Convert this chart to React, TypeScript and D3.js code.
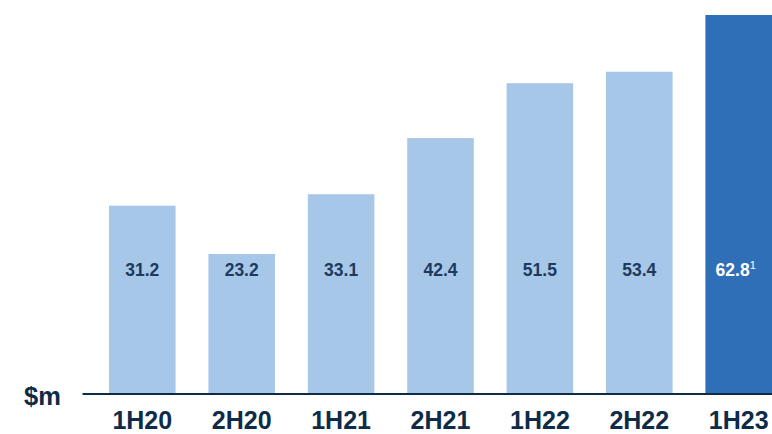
import React from "react";
import * as d3 from "d3";

const categories = ["1H20", "2H20", "1H21", "2H21", "1H22", "2H22", "1H23"];
const values = [31.2, 23.2, 33.1, 42.4, 51.5, 53.4, 62.8];
const highlight = ["1H23"];
const footnotes: Record<string, string> = { "1H23": "1" };
const unitLabel = "$m";

const W = 772;
const H = 434;

export default function App() {
  const x = d3.scaleBand<string>().domain(categories).range([109, 772]).paddingInner(0.33).paddingOuter(0);
  const y = d3.scaleLinear().domain([0, 62.8]).range([394, 15]);
  const navy = "#0e2c48";
  const labelY = 276;
  return (
    <svg width={W} height={H} style={{ position: "absolute", left: 0, top: 0, fontFamily: "Liberation Sans, Arial, sans-serif" }}>
      {categories.map((c, i) => {
        const hi = highlight.includes(c);
        const bx = x(c)!;
        const bw = x.bandwidth();
        return (
          <g key={c}>
            <rect x={bx} y={y(values[i])} width={bw} height={y(0) - y(values[i])} fill={hi ? "#2f6fb8" : "#a7c7e8"} />
            <text x={bx + bw / 2 - (footnotes[c] ? 3 : 0)} y={labelY} textAnchor="middle" fontSize={17.5} fontWeight="bold" fill={hi ? "#ffffff" : "#1d3a5e"}>
              {values[i].toFixed(1)}
              {footnotes[c] ? (
                <tspan fontSize={11} fontWeight="normal" dy={-7}>{footnotes[c]}</tspan>
              ) : null}
            </text>
            <text x={bx + bw / 2} y={429} textAnchor="middle" fontSize={25} fontWeight="bold" fill={navy}>
              {c}
            </text>
          </g>
        );
      })}
      <line x1={82.5} x2={772} y1={y(0)} y2={y(0)} stroke={navy} strokeWidth={2.2} />
      <text x={24} y={405} fontSize={25.5} fontWeight="bold" fill={navy}>{unitLabel}</text>
    </svg>
  );
}
